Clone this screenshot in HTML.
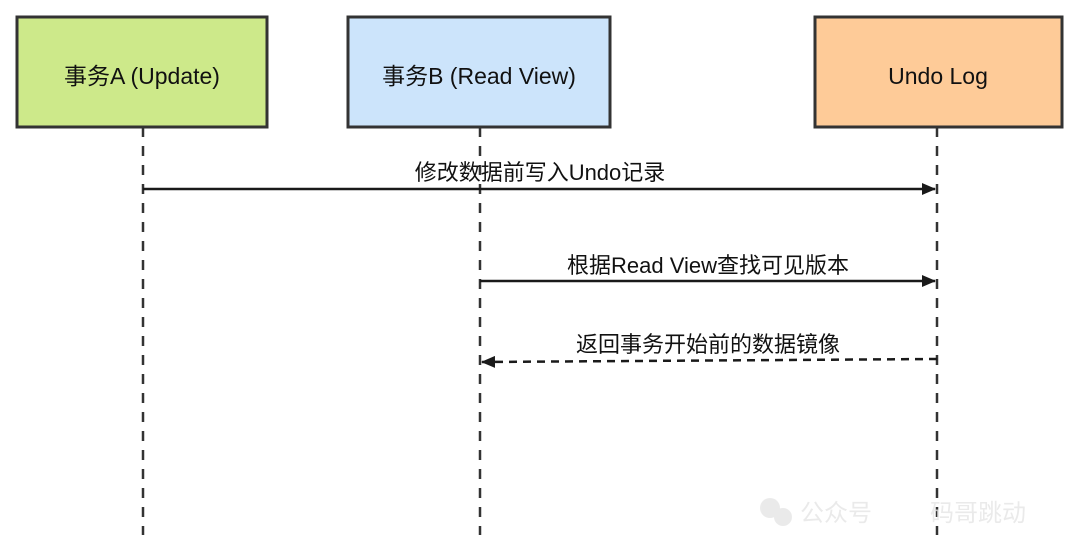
<!DOCTYPE html>
<html><head><meta charset="utf-8"><style>
body{margin:0;background:#fff;}
text{font-family:"Liberation Sans","Noto Sans CJK SC",sans-serif;}
</style></head><body>
<svg width="1080" height="552" viewBox="0 0 1080 552" xmlns="http://www.w3.org/2000/svg">
<defs><marker id="ah" markerWidth="14" markerHeight="12" refX="13" refY="6" orient="auto" markerUnits="userSpaceOnUse"><path d="M0,0 L14,6 L0,12 Z" fill="#1a1a1a"/></marker></defs>
<g stroke="#333" stroke-width="2.5" stroke-dasharray="10,9" fill="none">
<line x1="143" y1="127" x2="143" y2="535"/>
<line x1="480" y1="127" x2="480" y2="535"/>
<line x1="937" y1="127" x2="937" y2="535"/>
</g>
<rect x="17" y="17" width="250" height="110" fill="#cde98a" stroke="#333" stroke-width="3"/>
<rect x="348" y="17" width="262" height="110" fill="#cce4fb" stroke="#333" stroke-width="3"/>
<rect x="815" y="17" width="247" height="110" fill="#fecb98" stroke="#333" stroke-width="3"/>
<g font-size="23" fill="#111" text-anchor="middle">
<text x="142" y="84">事务A (Update)</text>
<text x="479" y="84">事务B (Read View)</text>
<text x="938" y="84">Undo Log</text>
</g>
<g stroke="#1a1a1a" stroke-width="2.5" fill="none">
<line x1="143" y1="189" x2="935" y2="189" marker-end="url(#ah)"/>
<line x1="480" y1="281" x2="935" y2="281" marker-end="url(#ah)"/>
<line x1="937" y1="359" x2="482" y2="362" stroke-dasharray="8,6" marker-end="url(#ah)"/>
</g>
<g font-size="22" fill="#111" text-anchor="middle">
<text x="540" y="180">修改数据前写入Undo记录</text>
<text x="708" y="273">根据Read View查找可见版本</text>
<text x="708" y="352">返回事务开始前的数据镜像</text>
</g>
<g fill="#e6e6e6" font-size="24" opacity="0.8">
<text x="800" y="521">公众号</text>
<text x="930" y="521">码哥跳动</text>
<circle cx="770" cy="508" r="10"/><circle cx="783" cy="517" r="9"/>
</g>
</svg>
</body></html>
